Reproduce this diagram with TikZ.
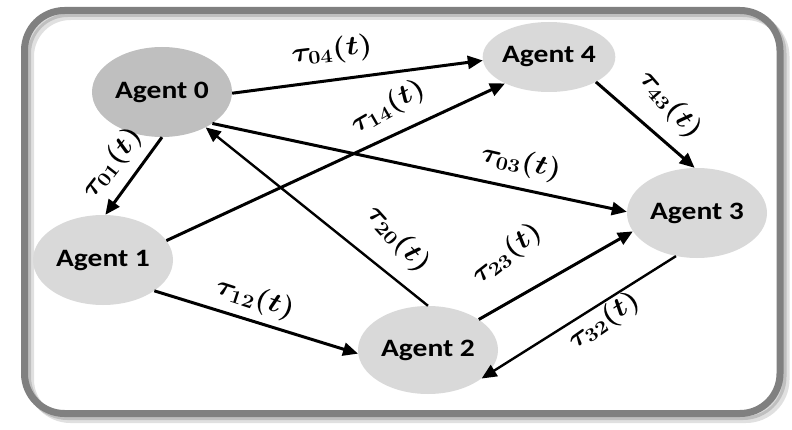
\documentclass[tikz,border=0pt]{standalone}
\usepackage{fix-cm}
\usepackage{amsmath,bm}
\usepackage{fontspec}
\newfontfamily\agentfont[FakeStretch=1.18]{Carlito}
\usetikzlibrary{arrows.meta,shapes.geometric}
\definecolor{framegray}{RGB}{128,128,128}
\definecolor{darknode}{RGB}{191,191,191}
\definecolor{lightnode}{RGB}{217,217,217}
\newcommand{\tlab}[1]{\scalebox{1.15}[1]{$\bm{\tau_{#1}(t)}$}}
\begin{document}
\begin{tikzpicture}[x=1pt,y=1pt,
  agent/.style={ellipse, inner sep=0pt, minimum width=140pt, minimum height=90pt,
    font=\agentfont\bfseries\fontsize{25}{29}\selectfont, text=black},
  edge/.style={line width=3pt, -{Triangle[length=15pt,width=13pt]}},
  thinedge/.style={edge, line width=2.4pt},
  lbl/.style={font=\fontsize{27}{31}\selectfont, inner sep=0pt}]
\useasboundingbox (0,0) rectangle (792,429);
% frame with soft shadow
\draw[line width=7pt, black, opacity=0.12, rounded corners=40pt] (30.5,9.5) rectangle (786,412.5);
\draw[line width=7pt, black, opacity=0.15, rounded corners=40pt] (27.5,12.5) rectangle (783,415.5);
\draw[line width=7pt, framegray, rounded corners=40pt] (24.5,15.5) rectangle (780,418.5);
% agents
\node[agent, fill=darknode] (a0) at (162,337) {Agent 0};
\node[agent, fill=lightnode, minimum width=132pt, minimum height=70pt] (a4) at (549,372) {Agent 4};
\node[agent, fill=lightnode] (a3) at (697,216) {Agent 3};
\node[agent, fill=lightnode] (a1) at (103,169) {Agent 1};
\node[agent, fill=lightnode, minimum height=88pt] (a2) at (428,79) {Agent 2};
% connectors
\draw[edge] (a0.-1) -- (a4.183);
\draw[edge] (a0.-32) -- (a3.179);
\draw[edge] (a1.17) -- (a4.211);
\draw[thinedge] (a2.90) -- (a0.-39);
\draw[edge] (a1.-31) -- (a2.183);
\draw[edge] (a2.31) -- (a3.196);
\draw[thinedge] (a3.244) -- (a2.-28);
\draw[edge] (a4.-28) -- (a3.93);
\draw[edge] (a0.-90) -- (a1.87);
% labels
\node[lbl, rotate=7] (l04) at (332,378) {\tlab{04}};
\node[lbl, rotate=30] (l14) at (388,322) {\tlab{14}};
\node[lbl, rotate=-13] (l03) at (521,266) {\tlab{03}};
\node[lbl, rotate=-49] (l43) at (670,324) {\tlab{43}};
\node[lbl, rotate=52] (l01) at (112,266) {\tlab{01}};
\node[lbl, rotate=-48] (l20) at (398,190) {\tlab{20}};
\node[lbl, rotate=-18] (l12) at (255,130) {\tlab{12}};
\node[lbl, rotate=38] (l23) at (507,175) {\tlab{23}};
\node[lbl, rotate=35] (l32) at (604,108) {\tlab{32}};
\end{tikzpicture}
\end{document}
